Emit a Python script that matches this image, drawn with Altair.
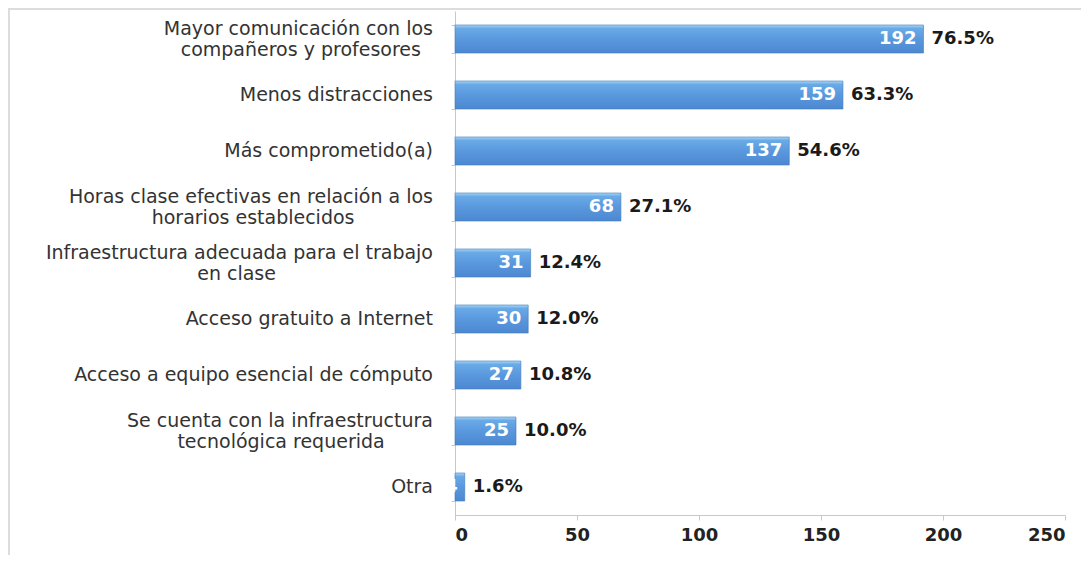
import altair as alt
import pandas as pd

line1 = [
    "Mayor comunicación con los",
    "Menos distracciones",
    "Más comprometido(a)",
    "Horas clase efectivas en relación a los",
    "Infraestructura adecuada para el trabajo",
    "Acceso gratuito a Internet",
    "Acceso a equipo esencial de cómputo",
    "Se cuenta con la infraestructura",
    "Otra",
]
line2 = [
    "compañeros y profesores",
    "",
    "",
    "horarios establecidos",
    "en clase",
    "",
    "",
    "tecnológica requerida",
    "",
]
counts = [192, 159, 137, 68, 31, 30, 27, 25, 4]
pcts = ["76.5%", "63.3%", "54.6%", "27.1%", "12.4%", "12.0%", "10.8%", "10.0%", "1.6%"]

# approximate DejaVu Sans advance widths (1/1000 em), used to centre second lines
W = {" ": 318, "a": 613, "b": 635, "c": 550, "d": 635, "e": 615, "f": 352, "g": 635, "h": 634,
     "i": 278, "j": 278, "k": 579, "l": 278, "m": 974, "n": 634, "o": 612, "p": 635, "q": 635,
     "r": 411, "s": 521, "t": 392, "u": 634, "v": 592, "w": 818, "x": 592, "y": 592, "z": 525,
     "ñ": 634, "ó": 612, "á": 613, "é": 615, "H": 752, "I": 295, "M": 863, "S": 635, "A": 684,
     "O": 787, "(": 390, ")": 390}


def tw(s):
    return sum(W.get(ch, 600) for ch in s)


cats = []
for a, b in zip(line1, line2):
    if b:
        pad = max(0, round((tw(a) - tw(b)) / 2 / 318))
        cats.append(a + "|" + b + "\u00a0" * pad + "\u2060")
    else:
        cats.append(a)

df = pd.DataFrame({"cat": cats, "n": counts, "pct": pcts})

FONT = "DejaVu Sans"

yenc = alt.Y(
    "cat:N",
    sort=cats,
    scale=alt.Scale(paddingInner=0.5, paddingOuter=0.25),
    axis=alt.Axis(
        title=None,
        labels=False,
        tickSize=4,
        tickBand="extent",
        tickColor="#c8c8c8",
        domainColor="#c8c8c8",
        grid=False,
    ),
)
yplain = alt.Y("cat:N", sort=cats)

x = alt.X(
    "n:Q",
    scale=alt.Scale(domain=[0, 250], nice=False),
    axis=alt.Axis(
        title=None,
        values=[0, 50, 100, 150, 200, 250],
        labelFont=FONT,
        labelFontSize=18,
        labelFontWeight="bold",
        labelColor="#222222",
        labelPadding=6,
        tickSize=5,
        tickColor="#c8c8c8",
        domainColor="#c8c8c8",
        grid=False,
    ),
)

grad = alt.Gradient(
    gradient="linear",
    stops=[
        alt.GradientStop(color="#a6dcf6", offset=0),
        alt.GradientStop(color="#6aaae6", offset=0.12),
        alt.GradientStop(color="#5a98de", offset=0.5),
        alt.GradientStop(color="#4c88d0", offset=1),
    ],
    x1=0, x2=0, y1=0, y2=1,
)

base = alt.Chart(df)

bars = base.mark_bar(color=grad, stroke="#3f7ac0", strokeWidth=0.6).encode(x=x, y=yenc)

label_style = dict(align="right", baseline="middle", font=FONT, fontSize=19,
                   color="#333333", lineBreak="|", lineHeight=21)

labels_one = base.transform_filter("indexof(datum.cat, '|') < 0").mark_text(
    **label_style
).encode(x=alt.value(-22), y=yplain, text="cat:N")

labels_two = base.transform_filter("indexof(datum.cat, '|') >= 0").mark_text(
    dy=-10.5, **label_style
).encode(x=alt.value(-22), y=yplain, text="cat:N")

inside = base.mark_text(
    align="right", baseline="middle", dx=-7, font=FONT, fontSize=18,
    fontWeight="bold", color="white"
).encode(x="n:Q", y=yplain, text="n:Q")

outside = base.mark_text(
    align="left", baseline="middle", dx=8, font=FONT, fontSize=18,
    fontWeight="bold", color="#1a1a1a"
).encode(x="n:Q", y=yplain, text="pct:N")

frame_top = base.mark_rule(color="#dcdcdc", strokeWidth=1.5).encode(
    x=alt.value(-447), x2=alt.value(700), y=alt.value(-2.5)
)
frame_left = base.mark_rule(color="#dcdcdc", strokeWidth=1.5).encode(
    x=alt.value(-446.5), y=alt.value(-3), y2=alt.value(700)
)

chart = (
    alt.layer(frame_top, frame_left, bars, labels_one, labels_two, inside, outside)
    .properties(
        width=610,
        height=504,
        autosize=alt.AutoSizeParams(type="none"),
        padding={"left": 447, "top": 3, "right": 16, "bottom": 40},
        background="white",
    )
    .configure_view(stroke=None)
)

chart.save("out.html", embed_options={"renderer": "svg", "actions": False})
